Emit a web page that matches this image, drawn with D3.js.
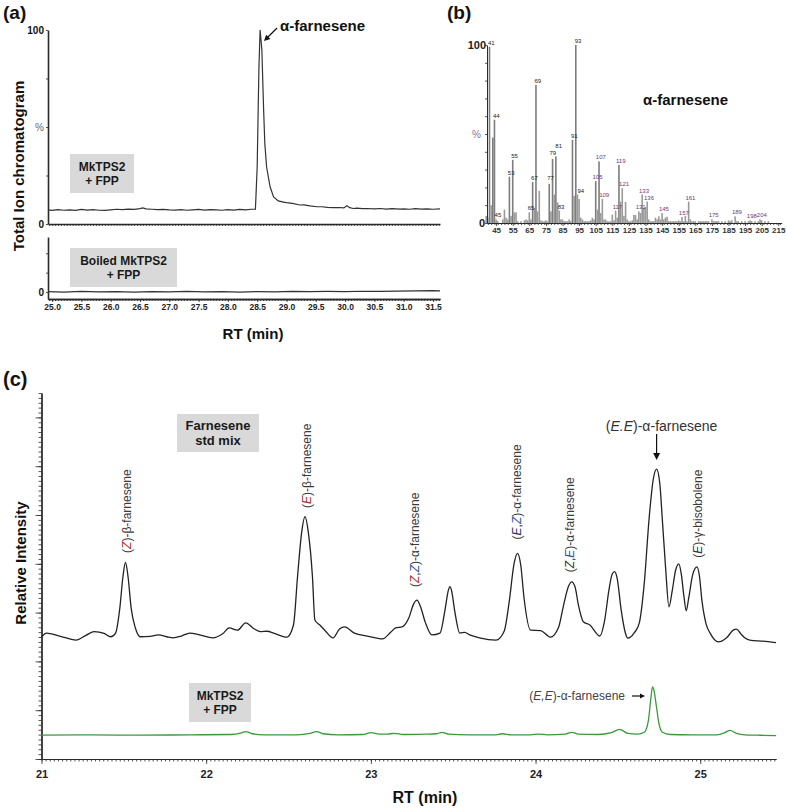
<!DOCTYPE html>
<html><head><meta charset="utf-8">
<script src="https://cdn.jsdelivr.net/npm/d3@7"></script>
<style>
body{margin:0;background:#fff}
svg{display:block}
text{font-family:Arial,"Liberation Sans",sans-serif}
</style>
</head><body>
<svg id="fig" width="787" height="809"></svg>
<script>
// ---------------- DATA ----------------
// (a) Total ion chromatogram, MkTPS2 + FPP : [RT min, %]
const ticActive = [
[24.93,7.3],[25.0,7.0],[25.1,7.4],[25.2,7.1],[25.3,7.3],[25.4,7.0],[25.5,7.5],[25.6,7.2],[25.7,7.4],[25.8,7.1],
[25.9,7.0],[26.0,7.3],[26.1,7.6],[26.2,7.4],[26.3,7.7],[26.4,7.5],[26.5,7.9],[26.55,8.3],[26.6,7.8],[26.7,7.6],
[26.8,7.4],[26.9,7.5],[27.0,7.3],[27.1,7.2],[27.2,7.4],[27.3,7.1],[27.4,7.3],[27.5,7.5],[27.6,7.2],[27.7,7.4],
[27.8,7.3],[27.9,7.1],[28.0,7.4],[28.1,7.2],[28.2,7.5],[28.3,7.3],[28.4,7.6],[28.47,7.7],
[28.50,29.5],[28.53,81],[28.55,100],[28.58,89.7],[28.61,58.8],[28.63,41.7],[28.66,29.5],[28.72,19.2],[28.78,14],
[28.86,11.9],[28.95,11.3],[29.0,11.0],[29.1,10.6],[29.23,9.8],[29.3,9.9],[29.4,9.3],[29.52,8.9],[29.6,8.9],
[29.7,8.6],[29.8,8.4],[29.9,8.5],[29.98,8.3],[30.03,9.4],[30.08,8.4],[30.14,8.0],[30.2,8.2],[30.3,7.9],[30.37,8.0],
[30.5,7.8],[30.6,8.0],[30.7,7.7],[30.8,7.9],[30.94,7.7],[31.0,7.8],[31.1,7.6],[31.2,7.9],[31.3,7.7],[31.4,7.8],
[31.5,7.6],[31.62,7.8]
];
// (a) Boiled MkTPS2 + FPP
const ticBoiled = [
[24.93,0.2],[25.2,0],[25.5,0.3],[25.8,0.1],[26.1,0.2],[26.4,0],[26.7,0.2],[27.0,0.1],[27.3,0.3],[27.6,0.1],
[27.9,0.2],[28.2,0],[28.5,0.2],[28.8,0.1],[29.1,0.3],[29.4,0.2],[29.7,0.3],[30.0,0.2],[30.3,0.4],[30.6,0.3],
[30.9,0.5],[31.2,0.6],[31.5,0.7],[31.62,0.6]
];
const ticTicks = [25.0,25.5,26.0,26.5,27.0,27.5,28.0,28.5,29.0,29.5,30.0,30.5,31.0,31.5];

// (b) mass spectrum : m/z and relative abundance (%)
const msMz = [39,40,41,42,43,44,45,46,49,50,51,52,53,54,55,56,57,58,60,62,63,64,65,66,67,68,69,70,71,72,73,74,75,76,
77,78,79,80,81,82,83,84,85,86,87,88,89,90,91,92,93,94,95,96,97,98,99,100,101,102,103,104,105,106,107,108,109,110,
111,112,113,114,115,116,117,118,119,120,121,122,123,124,125,126,127,128,129,130,131,132,133,134,135,136,137,138,139,
140,141,142,143,144,145,146,147,148,149,150,151,152,153,154,155,156,157,158,159,160,161,162,163,164,165,167,168,169,
170,171,172,173,175,176,177,178,179,181,183,185,186,187,189,190,191,193,195,197,198,199,201,203,204,205,207,209];
const msInt = [4,3,99,10,48,58,2,1,2,7.5,3,2,26,4,35.5,6,6,1,1,1.5,2,1.5,6,2,23,8.5,77.6,6.5,18,1.5,1,1,1.5,1,
22,6.5,36,16,37.4,11.6,7,2,2,1,1,1,2,1,46.7,15.3,100,16,13.5,3,2,1,1,1,1,1.5,3,2,23.5,7.5,34.6,5.6,13.5,2,
2,1,1,1,4.7,1.5,7,3,32.7,12,19.6,4,11.8,2,1,1,1.5,4.5,4.5,2,6.5,5.6,16,8.4,9,12,2,1,1,
1,3,2,3.7,2,5.6,2,3,3.5,1,1,1,1,1,1,1.5,1,3.4,1,4,1,12,2,1,1,1,1,1,1,
1,1,1,1,2,1,1,1,1,1,1,1.5,1,1.5,3.7,1,1,1,1,1,1.5,1,1,1,2,1.5,1,1];
const msLabels = [41,44,45,53,55,65,67,69,77,79,81,83,91,93,94,105,107,109,117,119,121,131,133,136,145,157,161,175,189,198,204];
const msTicks = [45,55,65,75,85,95,105,115,125,135,145,155,165,175,185,195,205,215];

// (c) GC traces : [RT min, relative intensity]
const stdMix = [
[21.00,33.3],[21.03,34.4],[21.11,33.6],[21.21,32.5],[21.27,33.8],[21.32,34.8],[21.38,34.3],[21.42,33.4],[21.45,34.4],
[21.475,41],[21.495,50],[21.51,53.7],[21.525,50],[21.545,41],[21.57,35.8],[21.60,33.4],[21.66,33.5],[21.71,33.9],
[21.76,33.4],[21.80,33.1],[21.85,33.6],[21.90,34.4],[21.96,33.9],[22.04,33.1],[22.10,34.2],[22.14,35.8],[22.19,35.2],
[22.24,37.2],[22.29,35.6],[22.33,34.8],[22.37,34.9],[22.41,34.4],[22.49,33.3],[22.53,36.6],[22.555,50],[22.58,62],
[22.60,66.2],[22.62,62],[22.645,50],[22.66,38.0],[22.69,36.6],[22.72,35.2],[22.77,33.1],[22.81,35.5],[22.84,36.1],
[22.90,34.4],[22.98,33.6],[23.07,32.8],[23.12,34.6],[23.15,35.8],[23.19,36.1],[23.23,38.5],[23.26,42.4],[23.28,43.4],
[23.30,41.8],[23.33,37.4],[23.37,33.9],[23.42,34.4],[23.45,40.7],[23.47,46],[23.48,47.1],[23.49,46],[23.51,40.2],
[23.54,34.4],[23.57,34.6],[23.60,33.9],[23.66,33.1],[23.76,32.5],[23.81,35],[23.84,43],[23.87,53.5],[23.89,56.2],
[23.91,53],[23.93,44],[23.97,35.2],[24.03,35.1],[24.09,33.3],[24.14,36],[24.17,42],[24.20,47.2],[24.22,48.4],
[24.24,47],[24.26,42.1],[24.29,37.5],[24.33,36.6],[24.39,33.6],[24.42,38],[24.445,46],[24.465,50.5],[24.48,51.2],
[24.495,49.5],[24.52,40.7],[24.545,34.5],[24.56,33.0],[24.60,34.5],[24.63,37.2],[24.66,48],[24.69,66],[24.715,76.5],
[24.735,79.2],[24.755,75],[24.77,65.3],[24.79,52],[24.81,41.6],[24.83,46],[24.85,51.5],[24.87,53.3],[24.885,50.5],
[24.90,44.8],[24.915,40.5],[24.93,44],[24.955,50.5],[24.98,52.5],[24.995,50],[25.01,43.4],[25.035,37],[25.06,34.4],
[25.11,32.0],[25.16,33.1],[25.20,35.2],[25.22,35.5],[25.245,34.3],[25.27,33.1],[25.30,32.5],[25.38,32.2],[25.46,31.8]
];
const enzyme = [
[21.00,6.5],[21.3,6.6],[21.6,6.5],[21.9,6.6],[22.15,6.7],[22.21,7.1],[22.24,7.5],[22.28,6.9],[22.35,6.6],[22.55,6.6],
[22.63,7.0],[22.67,7.5],[22.71,6.9],[22.8,6.6],[22.95,6.7],[23.0,7.2],[23.05,6.8],[23.10,6.8],[23.14,7.0],[23.20,6.7],
[23.33,6.8],[23.40,6.9],[23.43,7.3],[23.47,6.8],[23.6,6.6],[23.75,6.6],[23.80,6.9],[23.85,6.6],[23.97,6.6],[24.02,6.8],
[24.07,6.6],[24.18,6.8],[24.22,7.3],[24.26,6.8],[24.38,6.7],[24.46,7.2],[24.51,8.1],[24.56,7.0],[24.62,6.8],[24.66,7.3],
[24.685,10.5],[24.70,16.5],[24.71,19.7],[24.72,18.5],[24.735,14],[24.75,9.5],[24.77,7.3],[24.82,6.7],[24.95,6.6],
[25.10,6.6],[25.15,7.2],[25.18,7.8],[25.22,7.0],[25.27,6.6],[25.35,6.5],[25.46,6.4]
];
const gcTicks = [21,22,23,24,25];
// peak annotations: RT of label, parts [text, italic?, colour]
const peakNames = [
  {rt:21.52, y:56.3, parts:[["(",0],["Z",1,"#a33"],[")-β-farnesene",0]]},
  {rt:22.61, y:68.6, parts:[["(",0],["E",1,"#a33"],[")-β-farnesene",0]]},
  {rt:23.27, y:47,   parts:[["(",0],["Z",1,"#a33"],[",",0],["Z",1,"#35a"],[")-α-farnesene",0]]},
  {rt:23.89, y:60,   parts:[["(",0],["E",1,"#335"],[",",0],["Z",1,"#35a"],[")-α-farnesene",0]]},
  {rt:24.21, y:51,   parts:[["(",0],["Z",1,"#333"],[",",0],["E",1,"#35a"],[")-α-farnesene",0]]},
  {rt:24.985,y:55,   parts:[["(",0],["E",1,"#335"],[")-γ-bisobolene",0]]}
];

// ---------------- DRAW ----------------
const svg = d3.select("#fig");
const ink = "#2a2a2a";

function label(x, y, s, opt = {}) {
  return svg.append("text").attr("x", x).attr("y", y).text(s)
    .attr("font-size", opt.size || 12)
    .attr("font-weight", opt.weight || "normal")
    .attr("text-anchor", opt.anchor || "start")
    .attr("fill", opt.fill || "#111");
}
function box(x, y, w, h, lines, size) {
  svg.append("rect").attr("x", x).attr("y", y).attr("width", w).attr("height", h).attr("fill", "#d9d9d9");
  const n = lines.length, cx = x + w / 2;
  lines.forEach((t, i) => {
    label(cx, y + h / 2 + (i - (n - 1) / 2) * (size + 2) + size * 0.36, t, {size, weight: "bold", anchor: "middle", fill: "#1a1a1a"});
  });
}
function arrowHead(x, y, ang, size = 5) {
  const a = ang * Math.PI / 180;
  const p = [[x, y],
    [x - size * Math.cos(a) + size * 0.5 * Math.sin(a), y - size * Math.sin(a) - size * 0.5 * Math.cos(a)],
    [x - size * Math.cos(a) - size * 0.5 * Math.sin(a), y - size * Math.sin(a) + size * 0.5 * Math.cos(a)]];
  svg.append("path").attr("d", "M" + p.join("L") + "Z").attr("fill", "#111");
}
function styleAxis(g, col = ink, w = 1) {
  g.selectAll("path").attr("stroke", col).attr("stroke-width", w);
  g.selectAll("line").attr("stroke", col).attr("stroke-width", 0.8);
}

// ===== Panel (a) =====
label(3, 19, "(a)", {size: 19, weight: "bold"});
const xA = d3.scaleLinear().domain([24.93, 31.62]).range([48, 440]);
const yA1 = d3.scaleLinear().domain([0, 100]).range([224, 30]);
const yA2 = d3.scaleLinear().domain([-3.6, 28.4]).range([299, 237]);

let g = svg.append("g").attr("transform", "translate(0,224)")
  .call(d3.axisBottom(xA).tickValues(d3.range(24.95, 31.61, 0.05)).tickSize(2).tickSizeOuter(0).tickFormat(""));
styleAxis(g, ink, 1.3);
g = svg.append("g").attr("transform", "translate(48,0)")
  .call(d3.axisLeft(yA1).tickValues([0, 25, 50, 75, 100]).tickSize(2).tickSizeOuter(0).tickFormat(""));
styleAxis(g, ink, 1.6);
label(44, yA1(100) + 3.5, "100", {size: 10, weight: "bold", anchor: "end"});
label(44, yA1(50) + 3.5, "%", {size: 10, anchor: "end", fill: "#5a6a8a"});
label(44, yA1(0) + 3.5, "0", {size: 10, weight: "bold", anchor: "end"});

g = svg.append("g").attr("transform", "translate(0,299)")
  .call(d3.axisBottom(xA).tickValues(d3.range(24.95, 31.61, 0.05)).tickSize(2).tickSizeOuter(0).tickFormat(""));
styleAxis(g, ink, 1.3);
g = svg.append("g").attr("transform", "translate(0,299)")
  .call(d3.axisBottom(xA).tickValues(ticTicks).tickSize(3).tickSizeOuter(0).tickFormat(d3.format(".1f")));
styleAxis(g, ink, 1.3);
g.selectAll("text").attr("font-size", 8.5).attr("font-weight", "bold").attr("fill", "#222").attr("dy", "0.55em");
g = svg.append("g").attr("transform", "translate(48,0)")
  .call(d3.axisLeft(yA2).tickValues([0, 10, 20]).tickSize(2).tickSizeOuter(0).tickFormat(""));
styleAxis(g, ink, 1.6);
label(44, yA2(0) + 3.5, "0", {size: 10, weight: "bold", anchor: "end"});

const lineA1 = d3.line().x(d => xA(d[0])).y(d => yA1(d[1]));
const lineA2 = d3.line().x(d => xA(d[0])).y(d => yA2(d[1]));
svg.append("path").attr("d", lineA1(ticActive)).attr("fill", "none").attr("stroke", "#333").attr("stroke-width", 1.2);
svg.append("path").attr("d", lineA2(ticBoiled)).attr("fill", "none").attr("stroke", "#333").attr("stroke-width", 1.2);

box(70, 154, 64, 39, ["MkTPS2", "+ FPP"], 12);
box(70, 248, 107, 39, ["Boiled MkTPS2", "+ FPP"], 12);
label(280, 31, "α-farnesene", {size: 15, weight: "bold"});
svg.append("line").attr("x1", 277).attr("y1", 28).attr("x2", 267).attr("y2", 38).attr("stroke", "#111").attr("stroke-width", 1.2);
arrowHead(264, 41, 135, 6);

svg.append("text").attr("transform", "translate(24,166) rotate(-90)").attr("text-anchor", "middle")
  .attr("font-size", 15).attr("font-weight", "bold").attr("fill", "#111").text("Total Ion chromatogram");
label(253, 339, "RT (min)", {size: 15, weight: "bold", anchor: "middle"});

// ===== Panel (b) =====
label(447, 19, "(b)", {size: 19, weight: "bold"});
const xB = d3.scaleLinear().domain([39.5, 217]).range([487, 781.6]);
const yB = d3.scaleLinear().domain([0, 100]).range([223, 45]);

svg.append("g").selectAll("rect").data(msMz.map((m, i) => [m, msInt[i]])).join("rect")
  .attr("x", d => xB(d[0]) - 0.8).attr("width", 1.6)
  .attr("y", d => yB(d[1])).attr("height", d => yB(0) - yB(d[1]))
  .attr("fill", d => d[1] > 20 ? "#7d7d7d" : "#9a9a9a");

g = svg.append("g").attr("transform", "translate(0,223)")
  .call(d3.axisBottom(xB).tickValues(d3.range(40, 217, 2)).tickSize(2).tickSizeOuter(0).tickFormat(""));
styleAxis(g, ink, 1);
g = svg.append("g").attr("transform", "translate(0,223)")
  .call(d3.axisBottom(xB).tickValues(msTicks).tickSize(3).tickSizeOuter(0).tickFormat(d3.format("d")));
styleAxis(g, ink, 1);
g.selectAll("text").attr("font-size", 8).attr("font-weight", "bold").attr("fill", "#333").attr("dy", "0.5em");
g = svg.append("g").attr("transform", "translate(487,0)")
  .call(d3.axisLeft(yB).tickValues(d3.range(0, 101, 10)).tickSize(2).tickSizeOuter(0).tickFormat(""));
styleAxis(g, ink, 1);
label(486, yB(100) + 4, "100", {size: 11, weight: "bold", anchor: "end", fill: "#222"});
label(481, yB(50) + 4, "%", {size: 10, anchor: "end", fill: "#7a7a9a"});
label(485, yB(0) + 4, "0", {size: 11, weight: "bold", anchor: "end", fill: "#222"});

// per-label nudges (dx, dy) so neighbouring labels stay apart as in the reference
const msNudge = {79: [-1.5, -2], 81: [1, -6], 77: [-0.5, -2], 93: [0.5, 0], 94: [1.5, 0]};
msLabels.forEach(m => {
  const v = msInt[msMz.indexOf(m)];
  const nd = msNudge[m] || [0, 0];
  label(xB(m) + 1.8 + nd[0], yB(v) - 2 + nd[1], String(m), {size: 6, anchor: "middle", fill: m >= 100 ? "#6a3a7a" : "#222"});
});
label(643, 105, "α-farnesene", {size: 15, weight: "bold"});

// ===== Panel (c) =====
label(3, 386, "(c)", {size: 20, weight: "bold"});
const xC = d3.scaleLinear().domain([21, 25.46]).range([41.5, 776]);
const yC = d3.scaleLinear().domain([0, 100]).range([759, 393]);

g = svg.append("g").attr("transform", "translate(0,759)")
  .call(d3.axisBottom(xC).tickValues(d3.range(21, 25.46, 0.025)).tickSize(2.5).tickSizeOuter(0).tickFormat(""));
styleAxis(g, ink, 1.2);
g = svg.append("g").attr("transform", "translate(0,759)")
  .call(d3.axisBottom(xC).tickValues(gcTicks).tickSize(5).tickSizeOuter(0).tickFormat(d3.format("d")));
styleAxis(g, ink, 1.2);
g.selectAll("text").attr("font-size", 11).attr("font-weight", "bold").attr("fill", "#222").attr("dy", "1em");
g = svg.append("g").attr("transform", "translate(41.5,0)")
  .call(d3.axisLeft(yC).tickValues(d3.range(0, 100.01, 4 / 3)).tickSize(3).tickSizeOuter(0).tickFormat(""));
styleAxis(g, ink, 1.3);
g = svg.append("g").attr("transform", "translate(41.5,0)")
  .call(d3.axisLeft(yC).tickValues(d3.range(0, 100.01, 40 / 3)).tickSize(6).tickSizeOuter(0).tickFormat(""));
styleAxis(g, ink, 1.3);

const lineC = d3.line().x(d => xC(d[0])).y(d => yC(d[1])).curve(d3.curveMonotoneX);
svg.append("path").attr("d", lineC(stdMix)).attr("fill", "none").attr("stroke", "#222").attr("stroke-width", 1.3);
svg.append("path").attr("d", lineC(enzyme)).attr("fill", "none").attr("stroke", "#3a9a3a").attr("stroke-width", 1.3);

peakNames.forEach(p => {
  const t = svg.append("text")
    .attr("transform", `translate(${xC(p.rt) + 4},${yC(p.y)}) rotate(-90)`)
    .attr("font-size", 12).attr("fill", "#3a3a3a");
  p.parts.forEach(([s, it, col]) => {
    const ts = t.append("tspan").text(s);
    if (it) ts.attr("font-style", "italic").attr("fill", col);
  });
});

const ee = svg.append("text").attr("x", xC(24.735) + 5).attr("y", 431).attr("text-anchor", "middle")
  .attr("font-size", 14).attr("fill", "#333");
ee.append("tspan").text("(");
ee.append("tspan").text("E.E").attr("font-style", "italic");
ee.append("tspan").text(")-α-farnesene");
svg.append("line").attr("x1", xC(24.735)).attr("x2", xC(24.735)).attr("y1", 434).attr("y2", 453)
  .attr("stroke", "#111").attr("stroke-width", 1.2);
arrowHead(xC(24.735), 460, 90, 7);

const gl = svg.append("text").attr("x", 625).attr("y", 700).attr("text-anchor", "end")
  .attr("font-size", 12).attr("fill", "#444");
gl.append("tspan").text("(");
gl.append("tspan").text("E,E").attr("font-style", "italic");
gl.append("tspan").text(")-α-farnesene");
svg.append("line").attr("x1", 632).attr("x2", 641).attr("y1", 696).attr("y2", 696).attr("stroke", "#111").attr("stroke-width", 1.2);
arrowHead(645, 696, 0, 5);

box(177, 414, 82, 38, ["Farnesene", "std mix"], 13);
box(189, 683, 62, 39, ["MkTPS2", "+ FPP"], 12);

svg.append("text").attr("transform", "translate(26,563) rotate(-90)").attr("text-anchor", "middle")
  .attr("font-size", 15).attr("font-weight", "bold").attr("fill", "#111").text("Relative Intensity");
label(425, 803, "RT (min)", {size: 16, weight: "bold", anchor: "middle"});
</script>
</body></html>
